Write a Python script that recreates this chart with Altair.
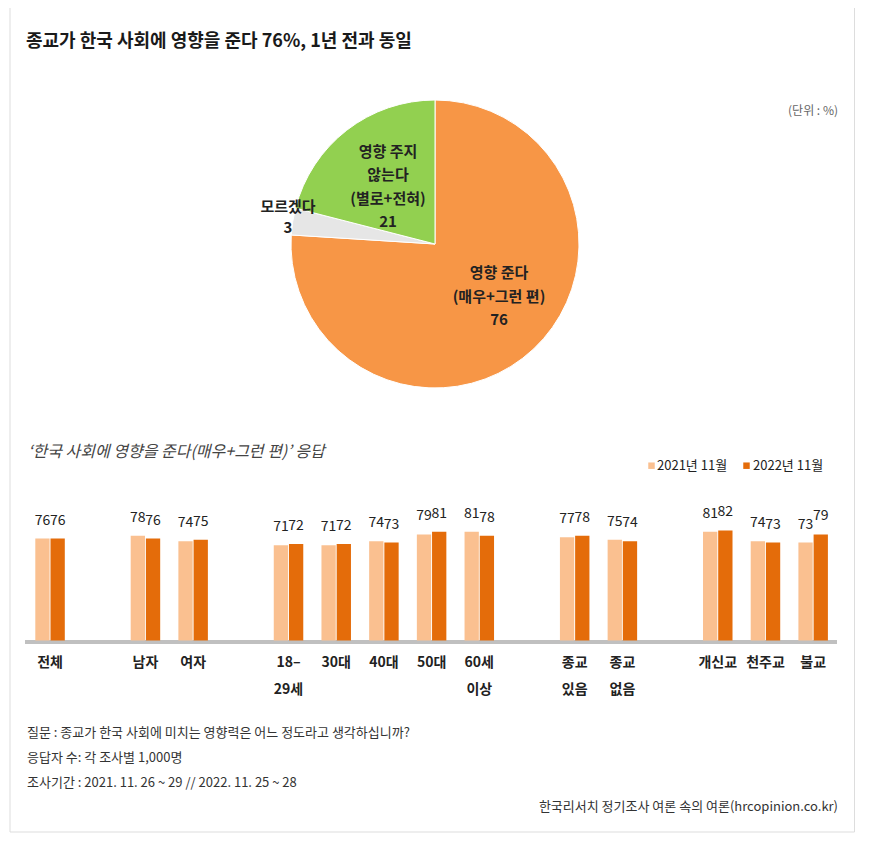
import altair as alt
import pandas as pd

FONT = "Noto Sans CJK KR"

# ---------------- data ----------------
title_text = "종교가 한국 사회에 영향을 준다 76%, 1년 전과 동일"
unit_text = "(단위 : %)"
subtitle_text = "‘한국 사회에 영향을 준다(매우+그런 편)’ 응답"

pie_labels = ["영향 준다", "모르겠다", "영향 주지 않는다"]
pie_values = [76, 3, 21]
pie_colors = ["#F79646", "#E6E6E6", "#92D050"]
pie_texts = ["영향 준다\n(매우+그런 편)\n76", "모르겠다\n3", "영향 주지\n않는다\n(별로+전혀)\n21"]

categories = ["전체", "남자", "여자", "18–\n29세", "30대", "40대", "50대", "60세\n이상",
              "종교\n있음", "종교\n없음", "개신교", "천주교", "불교"]
v2021 = [76, 78, 74, 71, 71, 74, 79, 81, 77, 75, 81, 74, 73]
v2022 = [76, 76, 75, 72, 72, 73, 81, 78, 78, 74, 82, 73, 79]
series = ["2021년 11월", "2022년 11월"]
series_colors = ["#FAC090", "#E46C0A"]

# x slots (blank spacers separate the groups)
slots = ["전체", " 1", "남자", "여자", " 2", "18–\n29세", "30대", "40대", "50대", "60세\n이상",
         " 3", "종교\n있음", "종교\n없음", " 4", "개신교", "천주교", "불교"]

notes = ["질문 : 종교가 한국 사회에 미치는 영향력은 어느 정도라고 생각하십니까?",
         "응답자 수: 각 조사별 1,000명",
         "조사기간 : 2021. 11. 26 ~ 29 // 2022. 11. 25 ~ 28"]
source_text = "한국리서치 정기조사 여론 속의 여론(hrcopinion.co.kr)"

# ---------------- helpers ----------------
def label(text, x, y, **kw):
    opts = dict(font=FONT, fontSize=13, color="#222222", align="left", baseline="middle",
                lineBreak="\n")
    opts.update(kw)
    return alt.Chart(pd.DataFrame({"t": [text]})).mark_text(x=x, y=y, **opts).encode(text="t:N")

def vrule(x, y1, y2, color, w=1):
    return alt.Chart(pd.DataFrame({"a": [0]})).mark_rule(color=color, strokeWidth=w).encode(
        x=alt.value(x), y=alt.value(y1), y2=alt.value(y2))

def hrule(x1, x2, y, color, w=1):
    return alt.Chart(pd.DataFrame({"a": [0]})).mark_rule(color=color, strokeWidth=w).encode(
        x=alt.value(x1), x2=alt.value(x2), y=alt.value(y))

# ---------------- frame ----------------
scrollbar = alt.Chart(pd.DataFrame({"a": [0]})).mark_rect(color="#EFEFEF").encode(
    x=alt.value(854), x2=alt.value(861), y=alt.value(0), y2=alt.value(836))
frame = [vrule(2, 0, 824, "#DDDDDD"), vrule(846.5, 0, 824, "#DDDDDD"),
         hrule(2, 846.5, 824, "#DDDDDD"), scrollbar]

# ---------------- pie ----------------
pie_df = pd.DataFrame({"label": pie_labels, "value": pie_values, "order": [0, 1, 2]})
pie = alt.Chart(pie_df).mark_arc(radius=144, stroke="white", strokeWidth=1).encode(
    theta=alt.Theta("value:Q", stack=True),
    order=alt.Order("order:Q"),
    color=alt.Color("label:N", scale=alt.Scale(domain=pie_labels, range=pie_colors), legend=None),
    x=alt.value(427), y=alt.value(236),
)
pie_text_layers = [
    label(pie_texts[0], 491, 265, align="center", fontSize=15, fontWeight="bold", lineHeight=23.5),
    label(pie_texts[1], 280, 199, align="center", fontSize=15, fontWeight="bold", lineHeight=21),
    label(pie_texts[2], 380, 144, align="center", fontSize=15, fontWeight="bold", lineHeight=23.3),
]

# ---------------- bars ----------------
bar_df = pd.DataFrame({"cat": categories, "y2021": v2021, "y2022": v2022})
xs = alt.Scale(domain=slots, range=[18.2, 829], paddingInner=0, paddingOuter=0)
ys = alt.Scale(domain=[0, 100], range=[632.5, 498.3])
xenc = alt.X("cat:N", scale=xs, axis=None, sort=slots)

base = alt.Chart(bar_df)
bars21 = base.mark_bar(width=14.3, xOffset=-7.6, color=series_colors[0]).encode(
    x=xenc, y=alt.Y("y2021:Q", scale=ys, axis=None))
bars22 = base.mark_bar(width=14.3, xOffset=7.6, color=series_colors[1]).encode(
    x=xenc, y=alt.Y("y2022:Q", scale=ys, axis=None))
lab21 = base.mark_text(font=FONT, fontSize=14, color="#222222", xOffset=-7.6, dy=-18,
                       baseline="middle").encode(x=xenc, y=alt.Y("y2021:Q", scale=ys, axis=None),
                                                 text="y2021:Q")
lab22 = base.mark_text(font=FONT, fontSize=14, color="#222222", xOffset=7.6, dy=-18,
                       baseline="middle").encode(x=xenc, y=alt.Y("y2022:Q", scale=ys, axis=None),
                                                 text="y2022:Q")
catlab = base.mark_text(font=FONT, fontSize=14, fontWeight="bold", color="#222222",
                        baseline="top", lineBreak="\n", lineHeight=27, y=648).encode(
    x=xenc, text="cat:N")
baseline_rule = hrule(17, 829, 634, "#C0C0C0", 4)

# ---------------- legend ----------------
leg_sq = alt.Chart(pd.DataFrame({"s": series, "x": [643.5, 738.5]})).mark_square(
    size=42, opacity=1, y=457.7).encode(
    x=alt.X("x:Q", scale=None),
    color=alt.Color("s:N", scale=alt.Scale(domain=series, range=series_colors), legend=None))
legend_layers = [leg_sq,
                 label(series[0], 649, 457.7, fontSize=13),
                 label(series[1], 745, 457.7, fontSize=13)]

# ---------------- texts ----------------
texts = [
    label(title_text, 18, 34, fontSize=18, fontWeight="bold", color="#1a1a1a"),
    label(unit_text, 830, 103, align="right", fontSize=12, color="#666666"),
    label(subtitle_text, 20, 444, fontSize=16, fontStyle="italic", color="#444444"),
    label(notes[0], 19, 725, fontSize=13, color="#333333"),
    label(notes[1], 19, 750, fontSize=13, color="#333333"),
    label(notes[2], 19, 775, fontSize=13, color="#333333"),
    label(source_text, 830, 799, align="right", fontSize=13, color="#333333"),
]

chart = alt.layer(
    *frame, pie, *pie_text_layers, baseline_rule, bars21, bars22, lab21, lab22, catlab,
    *legend_layers, *texts
).resolve_scale(color="independent").properties(
    width=853, height=828, autosize=alt.AutoSizeParams(type="none"), padding=0,
    background="white"
).configure_view(stroke=None)

chart.save("out.html", embed_options={"renderer": "svg", "actions": False})
